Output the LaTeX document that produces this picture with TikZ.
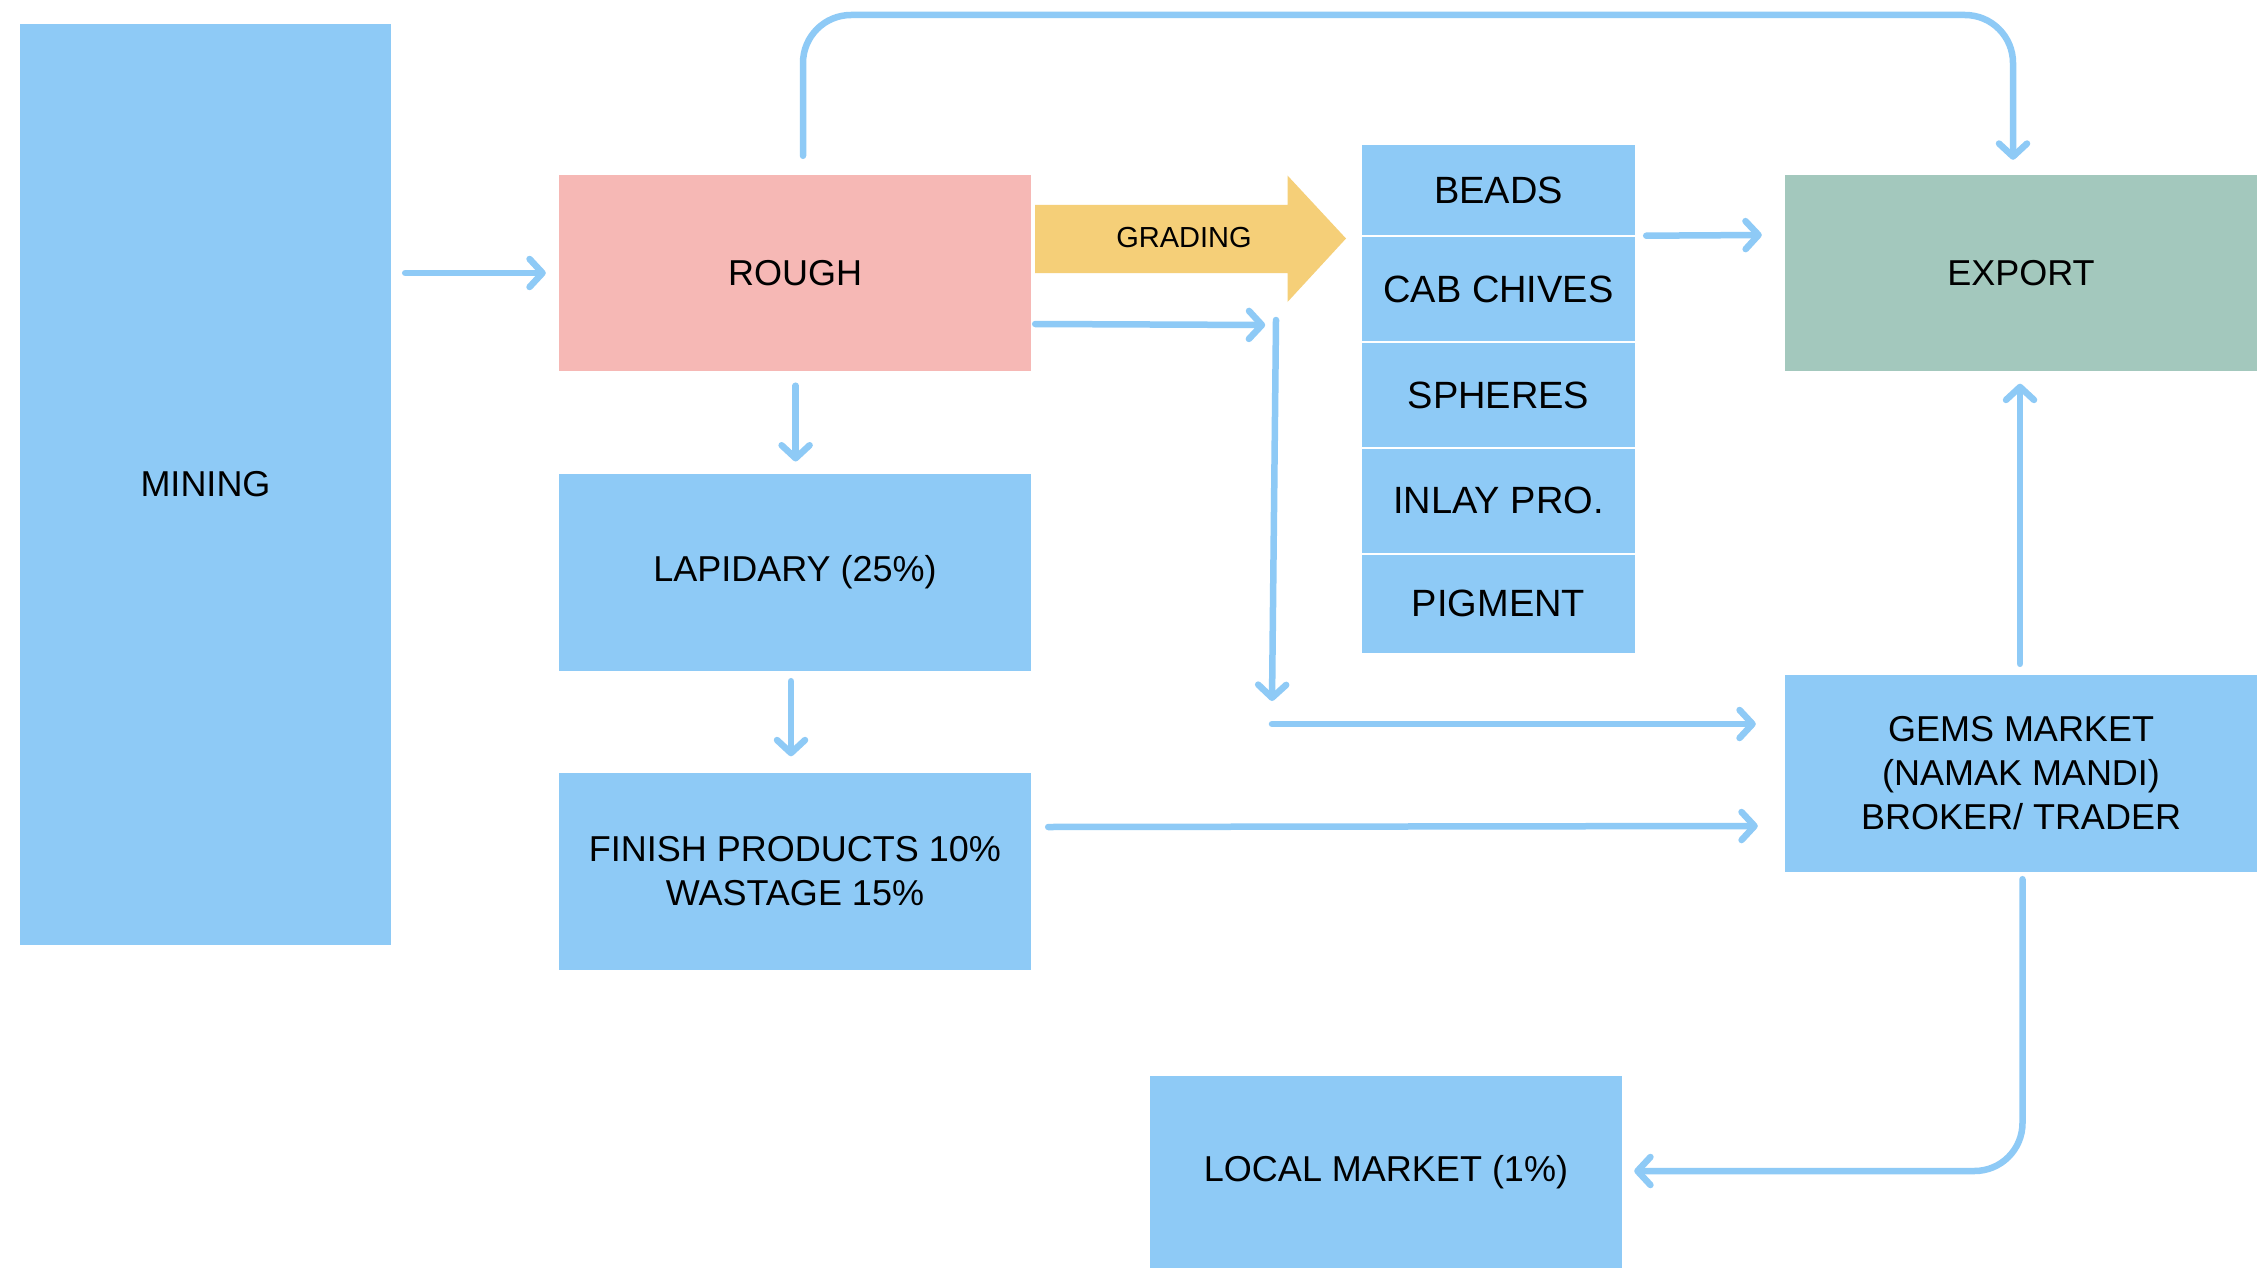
\documentclass[tikz,border=0pt]{standalone}
\usepackage{fontspec}
\setmainfont{Liberation Sans}
\usetikzlibrary{arrows.meta,calc}
\definecolor{boxblue}{HTML}{8ECAF6}
\definecolor{roughpink}{HTML}{F6B8B5}
\definecolor{gradeyellow}{HTML}{F5CF78}
\definecolor{exportgreen}{HTML}{A3C8BD}
\begin{document}
\begin{tikzpicture}[x=1pt,y=-1pt,
  box/.style={fill=boxblue, draw=none, inner sep=0pt, align=center, text=black,
    font=\fontsize{36}{44}\selectfont},
  bigbox/.style={box, minimum width=472pt, minimum height=196pt},
  colbox/.style={box, minimum width=273pt, font=\fontsize{38}{44}\selectfont},
  arr/.style={draw=boxblue, line width=6.5pt, line cap=round,
    -{Straight Barb[length=13pt,width=28pt,round]}},
]
\useasboundingbox[fill=white] (0,0) rectangle (2262,1268);

% boxes
\node[box, minimum width=371pt, minimum height=921pt] (mining) at (205.5,484.5) {MINING};
\node[bigbox, fill=roughpink] (rough) at (795,273) {ROUGH};
\node[bigbox, minimum height=197pt] (lapid) at (795,572.5) {LAPIDARY (25\%)};
\node[bigbox, minimum height=197pt] (finish) at (795,871.5) {FINISH PRODUCTS 10\%\\WASTAGE 15\%};
\node[bigbox, fill=exportgreen] (export) at (2021,273) {EXPORT};
\node[bigbox, minimum height=197pt] (gems) at (2021,773.5) {GEMS MARKET\\(NAMAK MANDI)\\BROKER/ TRADER};
\node[bigbox, minimum height=192pt] (local) at (1386,1172) {LOCAL MARKET (1\%)};

% column of products
\node[colbox, minimum height=90.5pt] (beads) at (1498.5,190.25) {BEADS};
\node[colbox, minimum height=103.5pt] (cab) at (1498.5,289.25) {CAB CHIVES};
\node[colbox, minimum height=104pt] (spheres) at (1498.5,395) {SPHERES};
\node[colbox, minimum height=103.5pt] (inlay) at (1498.5,500.75) {INLAY PRO.};
\node[colbox, minimum height=98.5pt] (pigment) at (1498.5,603.75) {PIGMENT};

% grading block arrow
\fill[gradeyellow] (1035,205) -- (1287.5,205) -- (1287.5,175.5) -- (1346,238.5)
  -- (1287.5,302) -- (1287.5,273) -- (1035,273) -- cycle;
\node[font=\fontsize{29}{34}\selectfont, inner sep=0pt] (grading) at (1184,238) {GRADING};

% connectors
\coordinate (tl) at (803,15);
\coordinate (tr) at (2013,15);
\coordinate (vtop) at (1276,320);
\coordinate (vbot) at (1272,701);
\coordinate (hstart) at (1272,724);

\draw[arr] ($(mining.east |- rough.west)+(14,0)$) -- ($(rough.west)+(-13,0)$);
\draw[arr, rounded corners=48pt] ($(rough.north)+(8,-19)$) -- (tl) -- (tr) -- ($(export.north)+(-8,-15)$);
\draw[arr] ($(rough.east)+(4,51)$) -- ($(rough.east)+(234,52)$);
\draw[arr] (vtop) -- (vbot);
\draw[arr] (hstart) -- ($(gems.west)+(-29,-49.5)$);
\draw[arr] ($(finish.east)+(17,-44.5)$) -- ($(gems.west)+(-27,52.5)$);
\draw[arr] ($(beads.south east)+(11,0)$) -- ($(export.west)+(-23,-38)$);
\draw[arr] ($(gems.north)+(-1,-11)$) -- ($(export.south)+(-1,12.5)$);
\draw[arr, rounded corners=48pt] ($(gems.south)+(1.5,7)$) |- ($(local.east)+(12,-1)$);
\draw[arr] ($(rough.south)+(0.6,14.5)$) -- ($(lapid.north)+(0.6,-12.3)$);
\draw[arr] ($(lapid.south)+(-4,10)$) -- ($(finish.north)+(-4,-16.5)$);
\end{tikzpicture}
\end{document}
